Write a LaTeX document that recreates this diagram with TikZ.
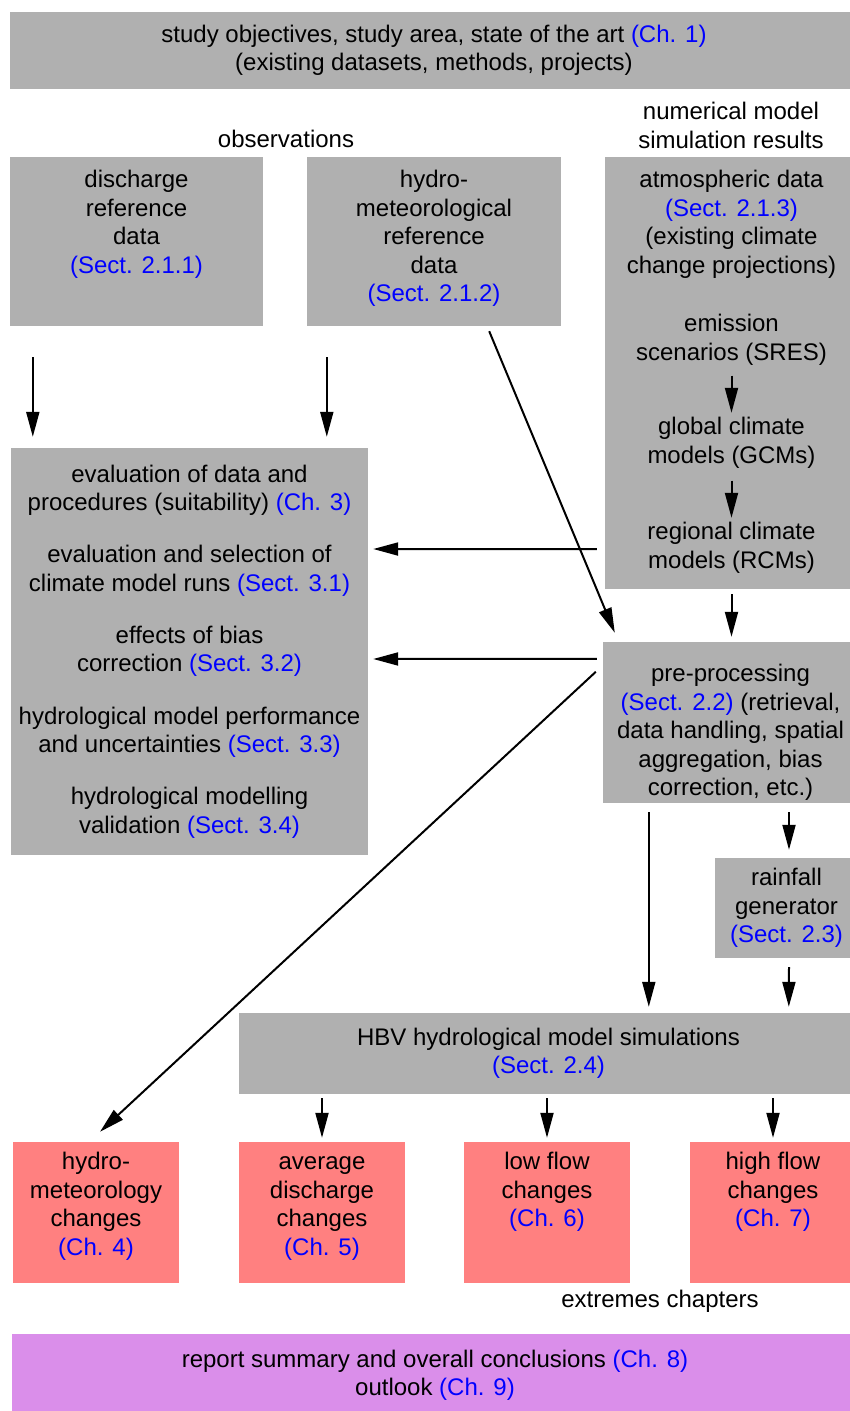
\documentclass[tikz,border=0pt]{standalone}
\usepackage{fontspec}
\setmainfont{Liberation Sans}
\usepackage{xcolor}
\usetikzlibrary{arrows.meta,positioning}
\definecolor{boxgray}{RGB}{176,176,176}
\definecolor{chapred}{RGB}{255,128,128}
\definecolor{summarylilac}{RGB}{218,142,234}
\definecolor{refblue}{RGB}{0,0,255}
\newcommand{\bluref}[1]{\textcolor{refblue}{(#1)}}

\begin{document}
\begin{tikzpicture}[x=1pt, y=-1pt,
    font=\fontsize{24}{28.5}\selectfont,
    gbox/.style={fill=boxgray, align=center, inner sep=0pt},
    rbox/.style={fill=chapred, inner sep=0pt, minimum width=166pt, minimum height=141pt},
    txt/.style={align=center, inner sep=0pt},
    arr/.style={line width=2pt, -{Triangle[length=25pt,width=13pt]}}]
    \useasboundingbox (0,0) rectangle (850,1411);

    % Introduction
    \node[gbox, minimum width=848pt, minimum height=77pt] (intro) at (434,50.5)
        {study objectives, study area, state of the art \bluref{Ch. 1}\\(existing datasets, methods, projects)};
    \node[txt] (obslbl) at (286,139.3) {observations};
    \node[txt] (simlbl) at (731,125.3) {numerical model\\simulation results};

    % Observations
    \node[gbox, minimum width=253pt, minimum height=169pt] (dis) at (136.5,241.5) {};
    \node[txt, below=11pt of dis.north] (distxt) {\strut discharge\\reference\\data\\\bluref{Sect. 2.1.1}};
    \node[gbox, minimum width=254pt, minimum height=169pt] (hyd) at (434,241.5) {};
    \node[txt, below=11pt of hyd.north] (hydtxt) {\strut hydro-\\meteorological\\reference\\data\\\bluref{Sect. 2.1.2}};

    % Model results
    \node[gbox, minimum width=253pt, minimum height=432pt] (atm) at (731.5,373) {};
    \node[txt, below=11pt of atm.north] (atmtxt) {\strut atmospheric data\\\bluref{Sect. 2.1.3}\\(existing climate\\change projections)};
    \node[txt, below=155pt of atm.north] (sres) {\strut emission\\scenarios (SRES)};
    \node[txt, below=258pt of atm.north] (gcm) {\strut global climate\\models (GCMs)};
    \node[txt, below=363pt of atm.north] (rcm) {\strut regional climate\\models (RCMs)};
    \draw[arr, shorten <=10pt, shorten >=2pt] (sres) -- (gcm);
    \draw[arr, shorten <=12pt, shorten >=2pt] (gcm) -- (rcm);

    % Evaluation
    \node[gbox, minimum width=357pt, minimum height=407pt] (eval) at (189.5,651.5)
        {evaluation of data and\\procedures (suitability) \bluref{Ch. 3}\\[23.7pt]
         evaluation and selection of\\climate model runs \bluref{Sect. 3.1}\\[23.7pt]
         effects of bias\\correction \bluref{Sect. 3.2}\\[23.7pt]
         hydrological model performance\\and uncertainties \bluref{Sect. 3.3}\\[23.7pt]
         hydrological modelling\\validation \bluref{Sect. 3.4}};

    % Processing
    \node[gbox, minimum width=255pt, minimum height=161pt] (pre) at (730.5,722.5) {};
    \node[txt, below=20pt of pre.north] (pretxt) {\strut pre-processing\\\bluref{Sect. 2.2} (retrieval,\\data handling, spatial\\aggregation, bias\\correction, etc.)};
    \node[gbox, minimum width=143pt, minimum height=100pt] (rain) at (786.5,908)
        {rainfall\\generator\\\bluref{Sect. 2.3}};
    \node[gbox, minimum width=619pt, minimum height=81pt] (hbv) at (548.5,1053.5)
        {HBV hydrological model simulations\\\bluref{Sect. 2.4}};

    % Result chapters
    \node[rbox] (hmc) at (96,1212.5) {};
    \node[txt, below=8pt of hmc.north] (hmctxt) {\strut hydro-\\meteorology\\changes\\\bluref{Ch. 4}};
    \node[rbox] (avgq) at (322,1212.5) {};
    \node[txt, below=8pt of avgq.north] (avgqtxt) {\strut average\\discharge\\changes\\\bluref{Ch. 5}};
    \node[rbox] (lowq) at (547,1212.5) {};
    \node[txt, below=8pt of lowq.north] (lowqtxt) {\strut low flow\\changes\\\bluref{Ch. 6}};
    \node[rbox] (highq) at (773,1212.5) {};
    \node[txt, below=8pt of highq.north] (highqtxt) {\strut high flow\\changes\\\bluref{Ch. 7}};
    \node[txt] (extlbl) at (660,1300.8) {extremes chapters};

    % Summary
    \node[gbox, fill=summarylilac, minimum width=846pt, minimum height=83pt] (summ) at (435,1375.5)
        {report summary and overall conclusions \bluref{Ch. 8}\\outlook \bluref{Ch. 9}};

    % Connections
    \draw[arr] ([xshift=23pt,yshift=-31pt]dis.south west) -- ([xshift=22pt,yshift=11pt]eval.north west);
    \draw[arr] ([xshift=20pt,yshift=-31pt]hyd.south west) -- ([xshift=316pt,yshift=11pt]eval.north west);
    \draw[arr] ([xshift=-72pt,yshift=-5pt]hyd.south east) -- ([xshift=12pt,yshift=9pt]pre.north west);
    \draw[arr] ([xshift=-8pt,yshift=40pt]atm.south west) -- ([xshift=5pt,yshift=102.5pt]eval.east);
    \draw[arr, shorten <=5pt, shorten >=5pt] (atm.south) -- (atm.south |- pre.north);
    \draw[arr] ([xshift=-6pt,yshift=-17pt]pre.north west) -- ([xshift=5pt,yshift=-7.5pt]eval.east);
    \draw[arr] ([xshift=-7pt,yshift=-30pt]pre.north west) -- ([xshift=4pt,yshift=10pt]hmc.north);
    \draw[arr] ([xshift=46pt,yshift=-9pt]pre.south west) -- ([xshift=410pt,yshift=6pt]hbv.north west);
    \draw[arr] ([xshift=58.5pt,yshift=-9pt]pre.south) -- ([xshift=2.5pt,yshift=8pt]rain.north);
    \draw[arr] ([xshift=2.5pt,yshift=-9pt]rain.south) -- ([xshift=550pt,yshift=6pt]hbv.north west);
    \foreach \chap in {avgq,lowq,highq}
        \draw[arr, shorten <=4pt, shorten >=4pt] (hbv.south -| \chap.north) -- (\chap.north);
\end{tikzpicture}
\end{document}
